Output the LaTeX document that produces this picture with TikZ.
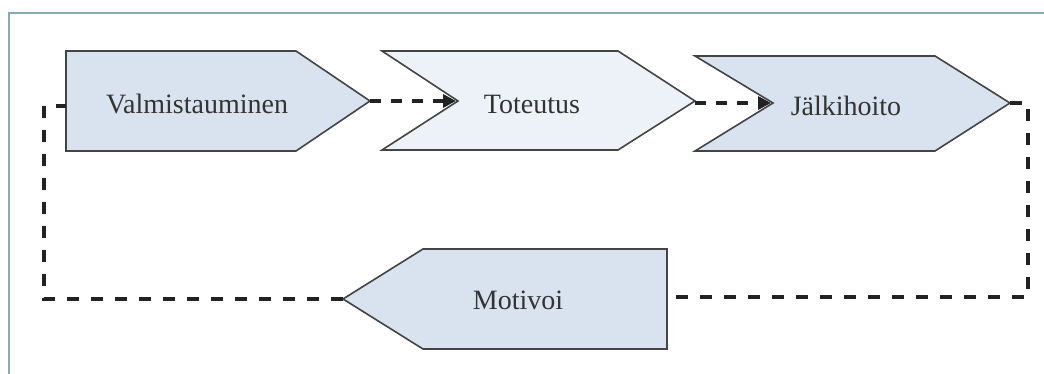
\documentclass[tikz,border=0pt]{standalone}
\usepackage{fontspec}
\setmainfont{Liberation Serif}
\usetikzlibrary{arrows.meta}
\definecolor{framec}{HTML}{8AA8B5}
\definecolor{boxfill}{HTML}{D9E3F0}
\definecolor{boxlight}{HTML}{EDF2F9}
\definecolor{edgec}{HTML}{444444}
\definecolor{textc}{HTML}{333333}
\definecolor{dashc}{HTML}{222222}
\tikzset{
  shapebox/.style={draw=edgec, line width=1.6pt, line join=miter},
  label/.style={text=textc, font=\fontsize{28}{33}\selectfont, inner sep=0pt},
  flow/.style={draw=dashc, line width=3.5pt, dash pattern=on 12pt off 12pt},
  flowarrow/.style={flow, dash pattern=on 11pt off 10pt, -{Triangle[length=13pt,width=13pt]}}
}
\begin{document}
\begin{tikzpicture}[x=1pt,y=-1pt]
\useasboundingbox (0,0) rectangle (1044,374);
\fill[white] (0,0) rectangle (1044,374);
\draw[framec, line width=2pt] (9,13) rectangle (1070,400);

% shapes
\draw[shapebox, fill=boxfill] (66,51) -- (296,51) -- (370,101) -- (296,151) -- (66,151) -- cycle;
\draw[shapebox, fill=boxlight] (382,51) -- (618,51) -- (695,101) -- (618,150) -- (382,150) -- (458,101) -- cycle;
\draw[shapebox, fill=boxfill] (695,56) -- (935,56) -- (1010,103) -- (935,151) -- (695,151) -- (773,103) -- cycle;
\draw[shapebox, fill=boxfill] (423,249) -- (667,249) -- (667,349) -- (423,349) -- (343,299) -- cycle;

% named points
\coordinate (v-tip) at (370,101);
\coordinate (v-in) at (66,106);
\coordinate (t-notch) at (456,101);
\coordinate (t-tip) at (695,103);
\coordinate (j-notch) at (771,103);
\coordinate (j-tip) at (1010,103);
\coordinate (m-east) at (667,297);
\coordinate (m-tip) at (343,299);

% labels
\node[label] (v) at (197,104) {Valmistauminen};
\node[label] (t) at (532,104) {Toteutus};
\node[label] (j) at (846,106) {Jälkihoito};
\node[label] (m) at (518,300) {Motivoi};

% connectors
\draw[flowarrow] (v-tip) -- (t-notch);
\draw[flowarrow] (t-tip) -- (j-notch);
\draw[flow] (j-tip) -- ++(18,0) |- (m-east);
\draw[flow] (m-tip) -| ([xshift=-22pt]v-in) -- (v-in);
\end{tikzpicture}
\end{document}
